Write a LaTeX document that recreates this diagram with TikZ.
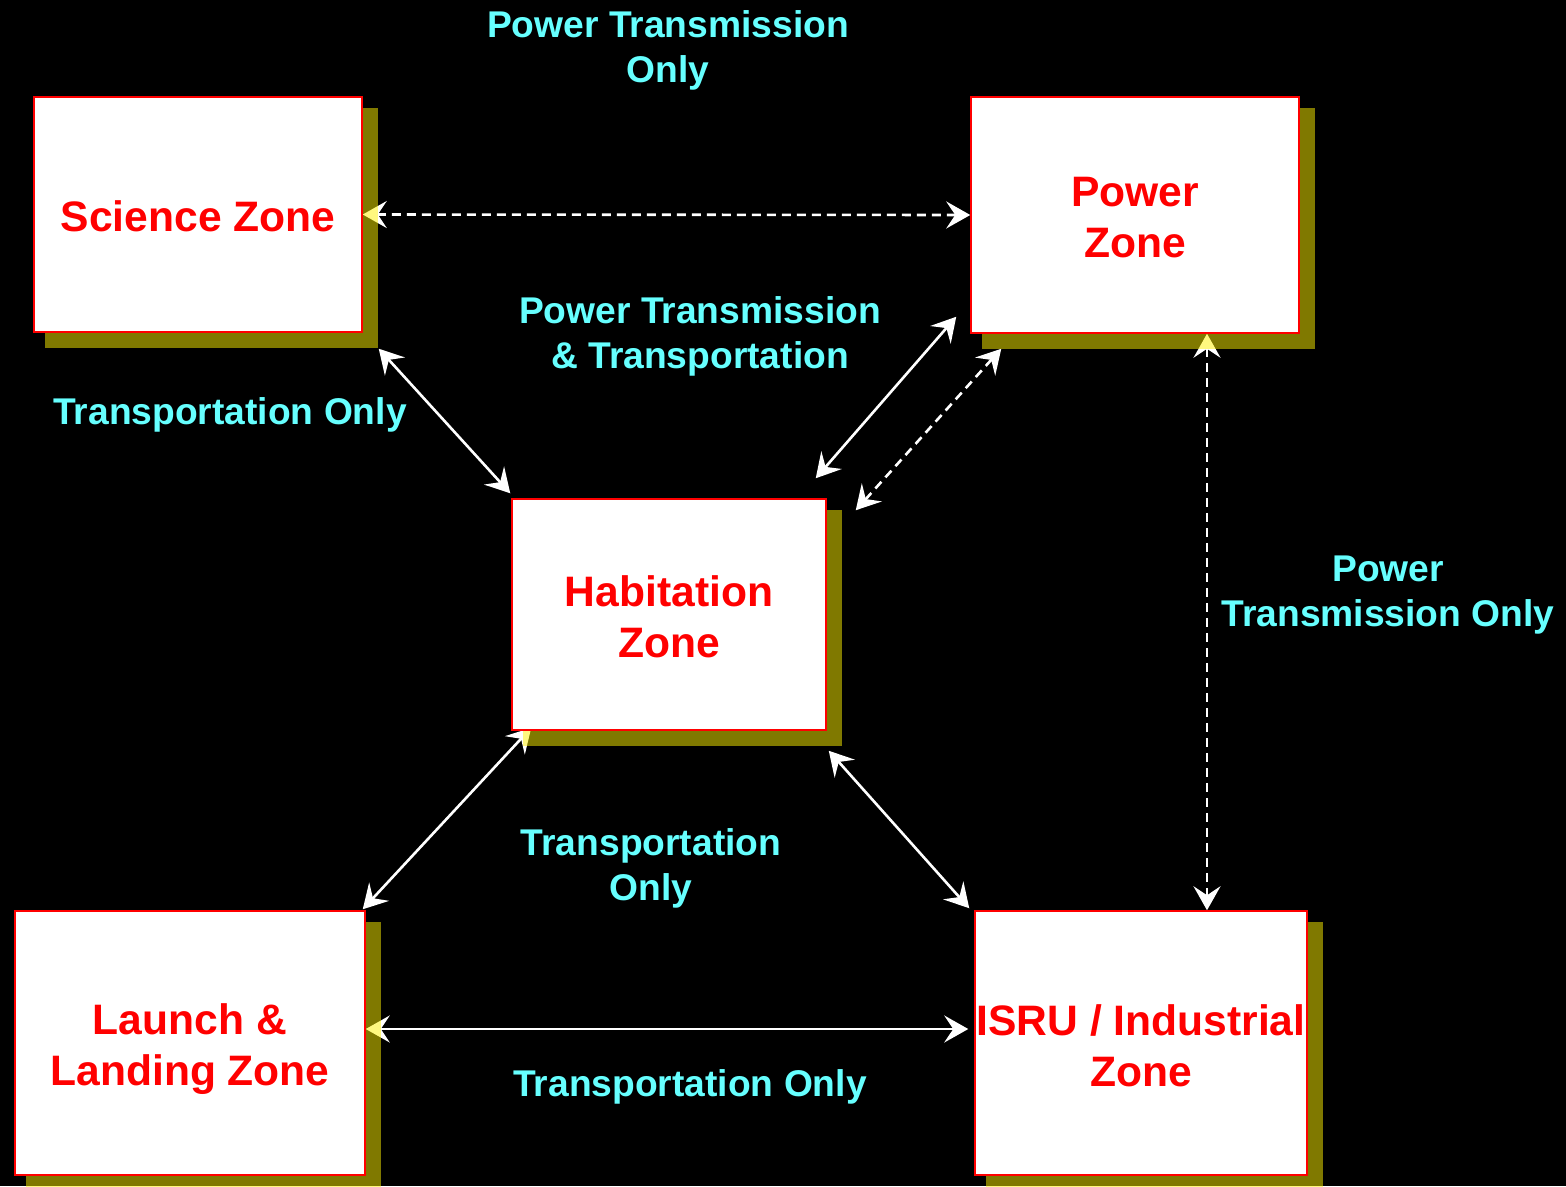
\documentclass[tikz,border=0pt]{standalone}
\usepackage{fontspec}
\setmainfont{Liberation Sans}
\usetikzlibrary{arrows.meta}
\pgfdeclarelayer{bg}
\pgfdeclarelayer{shadowlayer}
\pgfsetlayers{bg,shadowlayer,main}
\definecolor{zonered}{HTML}{FF0000}
\definecolor{labcyan}{HTML}{66FFFF}
\tikzset{
  zone/.style={draw=zonered, line width=1.5pt, fill=white, rectangle, inner sep=0pt},
  ztext/.style={align=center, text=zonered, font=\bfseries\fontsize{42.6}{51}\selectfont, inner sep=0pt},
  lab/.style={text=labcyan, align=center, font=\bfseries\fontsize{37.2}{45}\selectfont, inner sep=0pt},
  link/.style={draw=white, line width=2.6pt, {Stealth[length=24pt,width=27pt,inset=9pt]}-{Stealth[length=24pt,width=27pt,inset=9pt]}},
  dlink/.style={link, dash pattern=on 9pt off 6pt},
  shad/.style={fill=yellow, fill opacity=0.5}
}
\begin{document}
\begin{tikzpicture}[x=1pt,y=-1pt]
\begin{pgfonlayer}{bg}
\fill[black] (0,0) rectangle (1566,1186);
\end{pgfonlayer}
\useasboundingbox (0,0) rectangle (1566,1186);

\node[zone, minimum width=328pt, minimum height=235pt] (sci) at (198,214.5) {};
\node[zone, minimum width=328pt, minimum height=236pt] (pow) at (1135,215) {};
\node[zone, minimum width=314pt, minimum height=231pt] (hab) at (669,614.5) {};
\node[zone, minimum width=350pt, minimum height=264pt] (lau) at (190,1043) {};
\node[zone, minimum width=332pt, minimum height=264pt] (isru) at (1141,1043) {};

\node[ztext] (sciT) at ([yshift=-2pt]sci.center) {Science Zone};
\node[ztext] (powT) at ([yshift=-3pt]pow.center) {Power\\Zone};
\node[ztext] (habT) at ([yshift=-2pt]hab.center) {Habitation\\Zone};
\node[ztext] (lauT) at ([yshift=-6pt]lau.center) {Launch \&\\Landing Zone};
\node[ztext] (isruT) at ([yshift=-2.5pt]isru.center) {ISRU / Industrial\\Zone};

\begin{pgfonlayer}{shadowlayer}
\foreach \n in {sci,pow,hab,lau,isru}{
  \fill[shad] ([shift={(12,12)}]\n.north west) rectangle ([shift={(15,15)}]\n.south east);
}
\end{pgfonlayer}

\begin{pgfonlayer}{bg}
\draw[dlink] (sci.east) -- (pow.west);
\draw[link] ([shift={(16,16)}]sci.south east) -- ([shift={(-1,-5)}]hab.north west);
\draw[link] ([shift={(-14,-17)}]pow.south west) -- ([shift={(-11,-20)}]hab.north east);
\draw[dlink] ([shift={(31,15)}]pow.south west) -- ([shift={(29,12)}]hab.north east);
\draw[dlink] ([xshift={72pt}]pow.south) -- ([xshift={66pt}]isru.north);
\draw[link] ([shift={(20,-3)}]hab.south west) -- ([shift={(-3,-1)}]lau.north east);
\draw[link] ([shift={(2,20)}]hab.south east) -- ([shift={(-5,-2)}]isru.north west);
\draw[link] ([yshift=14pt]lau.east) -- ([shift={(-6,-14)}]isru.west);
\end{pgfonlayer}

\node[lab] (l1) at (668,50) {Power Transmission\\Only};
\node[lab] (l2) at (700,336) {Power Transmission\\\& Transportation};
\node[lab] (l3) at (230,415) {Transportation Only};
\node[lab] (l4) at (1388,595) {Power\\Transmission Only};
\node[lab] (l5) at (651,868) {Transportation\\Only};
\node[lab] (l6) at (690,1087) {Transportation Only};
\end{tikzpicture}
\end{document}
